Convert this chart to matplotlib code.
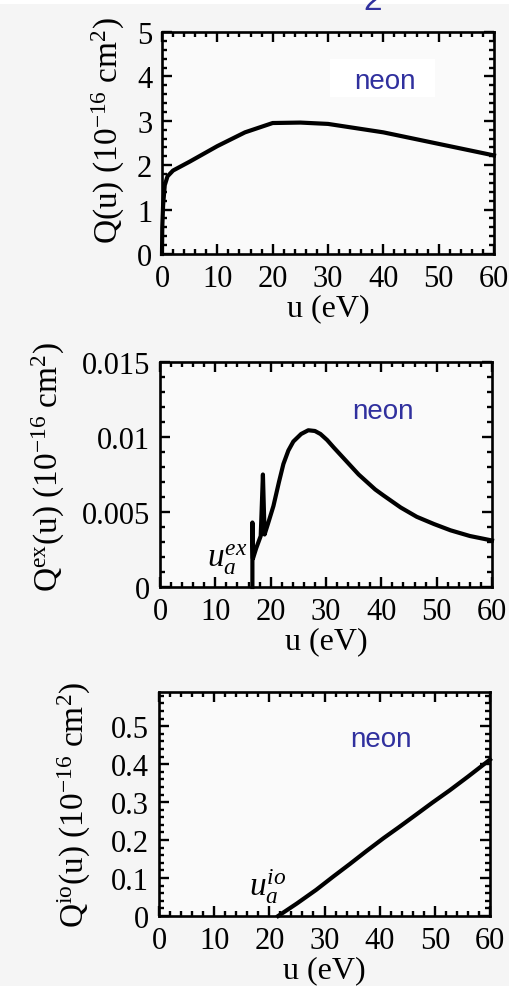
import matplotlib
matplotlib.use("Agg")
import matplotlib.pyplot as plt
from matplotlib.ticker import MultipleLocator, FixedLocator, FixedFormatter
from matplotlib.patches import Rectangle

plt.rcParams['font.family'] = ['Liberation Serif', 'DejaVu Serif']
plt.rcParams['mathtext.fontset'] = 'custom'
plt.rcParams['mathtext.rm'] = 'Liberation Serif'
plt.rcParams['mathtext.it'] = 'Liberation Serif:italic'
plt.rcParams['mathtext.bf'] = 'Liberation Serif:bold'

# ---- data ----
u_total = [0, 0.05, 0.2, 0.5, 1, 2, 5, 10, 15, 20, 25, 30, 40, 50, 60]
q_total = [0, 0.6, 1.1, 1.55, 1.75, 1.88, 2.08, 2.43, 2.74, 2.95, 2.96, 2.93, 2.74, 2.48, 2.22]

u_ex = [16.7, 16.7, 16.8, 17.4, 18.2, 18.6, 18.9, 19.5, 20.5, 21.5, 22.3, 23.2, 24.1, 25.5,
        26.8, 28.0, 29.0, 30.2, 31.4, 32.9, 34.4, 35.9, 37.4, 38.9, 40.4, 43.5, 46.4, 49.5,
        52.5, 56.0, 60.0]
q_ex = [0, 0.0043, 0.0019, 0.0026, 0.0034, 0.0075, 0.0035, 0.0042, 0.0054, 0.0070, 0.0082, 0.0091,
        0.0097, 0.0102, 0.01045, 0.0104, 0.0102, 0.0098, 0.0093, 0.0087, 0.0081, 0.0075, 0.0070,
        0.0065, 0.0061, 0.0053, 0.00468, 0.0042, 0.00378, 0.0034, 0.0031]

u_io = [21.6, 25.0, 28.5, 31.6, 34.6, 37.6, 40.7, 43.5, 46.7, 49.5, 52.7, 56.0, 60.0]
q_io = [0, 0.033, 0.069, 0.104, 0.137, 0.171, 0.205, 0.234, 0.268, 0.298, 0.331, 0.367, 0.412]

x_ticks = [0, 10, 20, 30, 40, 50, 60]
y1_ticks = [0, 1, 2, 3, 4, 5]
y2_ticks = [0, 0.005, 0.01, 0.015]
y2_labels = ['0', '0.005', '0.01', '0.015']
y3_ticks = [0, 0.1, 0.2, 0.3, 0.4, 0.5]
y3_labels = ['0', '0.1', '0.2', '0.3', '0.4', '0.5']

ylabels = [r'Q(u) (10$^{-16}$ cm$^2$)',
           r'Q$^{\rm ex}$(u) (10$^{-16}$ cm$^2$)',
           r'Q$^{\rm io}$(u) (10$^{-16}$ cm$^2$)']

W, H = 509, 987
fig = plt.figure(figsize=(W / 100, H / 100), dpi=100, facecolor='#f5f5f5')
fig.patches.append(Rectangle((0, 1 - 5 / H), 1, 5 / H, transform=fig.transFigure,
                             facecolor='white', edgecolor='none', zorder=0))

def px_axes(l, t, r, b):
    return fig.add_axes([l / W, 1 - b / H, (r - l) / W, (b - t) / H])

ax1 = px_axes(162, 33, 494, 255)
ax2 = px_axes(160, 363, 492, 588)
ax3 = px_axes(159, 693, 490, 917)

FS = 22
lw_curve = 3.0
blue = '#30309e'

def style(ax, ymax, yminor, yticks, ylabels_txt, label, labx, laby):
    ax.set_facecolor('#fafafa')
    ax.set_xlim(0, 60)
    ax.set_ylim(0, ymax)
    ax.xaxis.set_major_locator(FixedLocator(x_ticks))
    ax.xaxis.set_minor_locator(MultipleLocator(2))
    ax.yaxis.set_major_locator(FixedLocator(yticks))
    ax.yaxis.set_major_formatter(FixedFormatter(ylabels_txt))
    ax.yaxis.set_minor_locator(MultipleLocator(yminor))
    ax.tick_params(which='both', direction='in', top=True, right=True,
                   labelsize=FS, width=1.7, colors='black')
    ax.tick_params(which='major', length=7, pad=7)
    ax.tick_params(which='minor', length=3.8)
    for s in ax.spines.values():
        s.set_linewidth(1.9)
    ax.set_xlabel('u (eV)', fontsize=FS + 1, labelpad=0)
    ax.set_ylabel(label, fontsize=24)
    ax.yaxis.set_label_coords(labx, laby)

style(ax1, 5, 0.2, y1_ticks, [str(v) for v in y1_ticks], ylabels[0], -0.105, 0.56)
style(ax2, 0.015, 0.001, y2_ticks, y2_labels, ylabels[1], -0.28, 0.54)
style(ax3, 0.59, 0.02, y3_ticks, y3_labels, ylabels[2], -0.20, 0.50)

ax1.plot(u_total, q_total, color='black', lw=lw_curve, solid_joinstyle='round', clip_on=False)
ax2.plot(u_ex, q_ex, color='black', lw=lw_curve, solid_joinstyle='round', clip_on=False)
ax3.plot(u_io, q_io, color='black', lw=lw_curve, solid_joinstyle='round', clip_on=False)

# neon labels
ax1.add_patch(Rectangle((30.4, 3.54), 19.0, 0.845, facecolor='white',
                        edgecolor='none', zorder=1))
for ax, y in [(ax1, 0.78), (ax2, 0.78), (ax3, 0.79)]:
    ax.text(0.672, y, 'neon', transform=ax.transAxes, fontsize=20, color=blue,
            family=['Liberation Sans', 'DejaVu Sans'],
            ha='center', va='center', zorder=3)

ax2.text(15.8, 0.0014, r'$u_a^{ex}$', fontsize=24, ha='right', va='baseline')
ax3.text(16.3, 0.055, r'$u_a^{io}$', fontsize=24, ha='left', va='baseline')

fig.text(373 / W, 1 - 10 / H, '2', fontsize=24, color=blue,
         family=['Liberation Sans', 'DejaVu Sans'], ha='center', va='baseline')

fig.savefig('out.png', dpi=100, facecolor=fig.get_facecolor())
